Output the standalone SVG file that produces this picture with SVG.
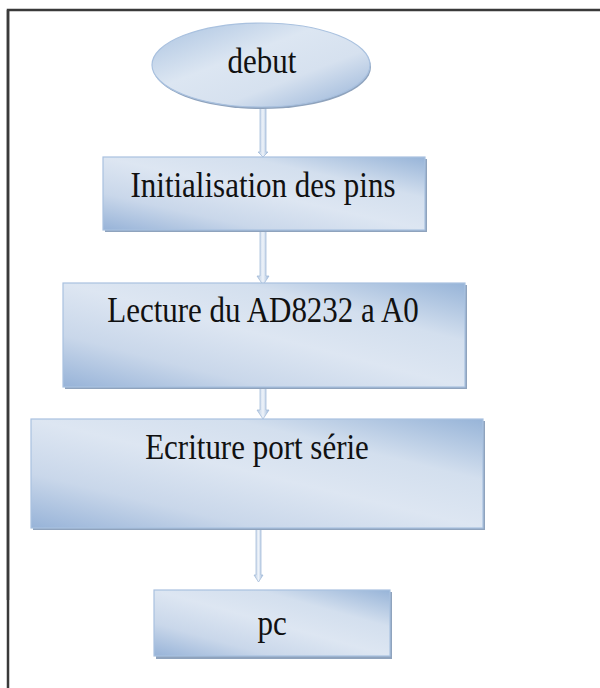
<svg xmlns="http://www.w3.org/2000/svg" width="600" height="688" viewBox="0 0 600 688">
  <style>
    .frame { fill: none; stroke: #3a3a3a; stroke-width: 2.5; }
    .box { fill: url(#boxFill); stroke: #a9c1df; stroke-width: 1.2; }
    .shadow { fill: #8fa3bd; }
    .label { font-family: "Liberation Serif", "Times New Roman", serif; font-size: 31px; fill: #111; text-anchor: middle; }
    .arrow { fill: url(#arrowFill); stroke: #a4bcd9; stroke-width: 0.8; }
  </style>
  <defs>
    <linearGradient id="boxFill" x1="0" y1="1" x2="1" y2="0">
      <stop offset="0" stop-color="#97b3d8"/>
      <stop offset="0.25" stop-color="#c9d7ea"/>
      <stop offset="0.5" stop-color="#dde6f2"/>
      <stop offset="0.72" stop-color="#d3dfee"/>
      <stop offset="1" stop-color="#97b4d8"/>
    </linearGradient>
    <linearGradient id="ellFill" x1="0" y1="0" x2="1" y2="1">
      <stop offset="0" stop-color="#a9c2e0"/>
      <stop offset="0.4" stop-color="#dce6f2"/>
      <stop offset="0.65" stop-color="#d6e1ef"/>
      <stop offset="1" stop-color="#94b1d7"/>
    </linearGradient>
    <linearGradient id="arrowFill" x1="0" y1="0" x2="1" y2="0">
      <stop offset="0" stop-color="#b4c8e2"/>
      <stop offset="0.5" stop-color="#eef3f9"/>
      <stop offset="1" stop-color="#9db7da"/>
    </linearGradient>
  </defs>

  <!-- page frame: top and left edges only -->
  <path class="frame" d="M8,600 V10 H600"/>
  <path class="frame" d="M8,10 V688"/>

  <!-- connectors -->
  <g id="connectors">
    <path class="arrow" d="M260,106 h6 v46 h2 l-5,5 l-5,-5 h2 z"/>
    <path class="arrow" d="M260,230 h6 v46 h3 l-6,9 l-6,-9 h3 z"/>
    <path class="arrow" d="M260,388 h6 v22 h3 l-6,9 l-6,-9 h3 z"/>
    <path class="arrow" d="M256,529 h5 v46 h2 l-4.5,7 l-4.5,-7 h2 z"/>
  </g>

  <g id="debut">
    <ellipse cx="261" cy="65" rx="109" ry="42" fill="#8fa3bd" transform="translate(1,2)"/>
    <ellipse cx="261" cy="65" rx="109" ry="42" fill="url(#ellFill)" stroke="#a9c1df" stroke-width="1.2"/>
    <text class="label" transform="translate(262,73) scale(1,1.17)">debut</text>
  </g>

  <g id="init">
    <rect class="shadow" x="105" y="159" width="322" height="73"/>
    <rect class="box" x="103" y="157" width="322" height="73"/>
    <text class="label" transform="translate(263,197) scale(1,1.17)">Initialisation des pins</text>
  </g>

  <g id="lecture">
    <rect class="shadow" x="65" y="285" width="402" height="104"/>
    <rect class="box" x="63" y="283" width="402" height="104"/>
    <text class="label" transform="translate(263,322) scale(1,1.17)">Lecture du AD8232 a A0</text>
  </g>

  <g id="ecriture">
    <rect class="shadow" x="33" y="421" width="452" height="109"/>
    <rect class="box" x="31" y="419" width="452" height="109"/>
    <text class="label" transform="translate(257,459) scale(1,1.17)">Ecriture port série</text>
  </g>

  <g id="pc">
    <rect class="shadow" x="156" y="592" width="236" height="67"/>
    <rect class="box" x="154" y="590" width="236" height="66"/>
    <text class="label" transform="translate(272,635) scale(1,1.17)">pc</text>
  </g>
</svg>
